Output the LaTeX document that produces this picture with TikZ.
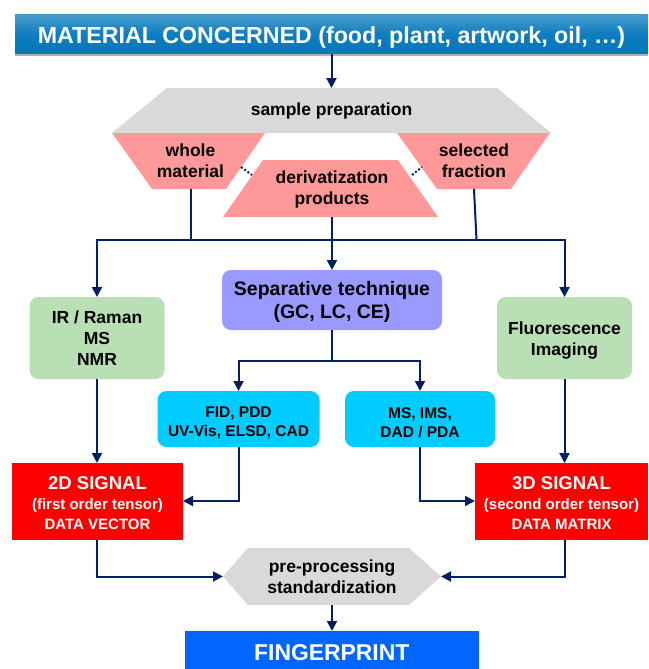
\documentclass[tikz,border=0pt]{standalone}
\usepackage{fontspec}
\setmainfont{Liberation Sans}
\usetikzlibrary{arrows.meta}
\definecolor{navy}{HTML}{002060}
\definecolor{graybox}{HTML}{D9D9D9}
\definecolor{pinkbox}{HTML}{FF9999}
\definecolor{violetbox}{HTML}{9999FF}
\definecolor{greenbox}{HTML}{B9E0B5}
\definecolor{cyanbox}{HTML}{00CCFF}
\definecolor{bluebox}{HTML}{0066FF}
\definecolor{redbox}{HTML}{FF0000}
\definecolor{bartop}{HTML}{469BCD}
\definecolor{barmid}{HTML}{0F7DBE}
\definecolor{barbot}{HTML}{0078B9}
\tikzset{
  lab/.style={inner sep=0pt,outer sep=0pt,align=center,font=\bfseries\fontsize{17.5}{21}\selectfont},
  rbox/.style={rounded corners=9pt,inner sep=0pt,outer sep=0pt,align=center},
  sharp/.style={inner sep=0pt,outer sep=0pt,align=center,text=white},
  link/.style={draw=navy,line width=2pt},
  arr/.style={link,-{Triangle[width=10pt,length=10pt]}},
  dots/.style={draw=navy,line width=2pt,dash pattern=on 2pt off 2pt},
}
\begin{document}
\begin{tikzpicture}[x=1pt,y=-1pt]
\useasboundingbox (0,0) rectangle (648,669);
% title bar
\fill[black,opacity=.3] (15,16) rectangle (648,56);
\node[sharp,minimum width=633pt,minimum height=39pt,shade,top color=bartop,bottom color=barbot,middle color=barmid,text height=22pt,
      font=\bfseries\fontsize{23.2}{26}\selectfont] (title) at (331.5,34.5) {MATERIAL CONCERNED (food, plant, artwork, oil, …)};
% shapes
\fill[graybox] (167,88) -- (497,88) -- (551,133) -- (112,133) -- cycle;
\fill[pinkbox] (112,133) -- (265,133) -- (226,189) -- (152,189) -- cycle;
\fill[pinkbox] (397,133) -- (550,133) -- (511,189) -- (437,189) -- cycle;
\fill[pinkbox] (263,160) -- (398,160) -- (438,217) -- (223,217) -- cycle;
\fill[graybox] (248,548) -- (409,548) -- (441,576.5) -- (409,605) -- (248,605) -- (223,576.5) -- cycle;
% text nodes
\node[lab,minimum width=439pt,minimum height=45pt] (prep) at (331.5,110.5) {sample preparation};
\node[lab,minimum width=148pt,minimum height=56pt] (whole) at (190.5,161) {whole\\material};
\node[lab,minimum width=148pt,minimum height=56pt] (selected) at (474,161) {selected\\fraction};
\node[lab,minimum width=215pt,minimum height=57pt,text height=36pt] (deriv) at (332,188.5) {derivatization\\products};
\node[rbox,fill=violetbox,minimum width=220pt,minimum height=60pt,text height=41.5pt,font=\bfseries\fontsize{19.5}{23}\selectfont] (sep) at (332,300) {Separative technique\\(GC, LC, CE)};
\node[rbox,fill=greenbox,minimum width=135pt,minimum height=82pt,font=\bfseries\fontsize{17.5}{21}\selectfont] (ir) at (97,338) {IR / Raman\\MS\\NMR};
\node[rbox,fill=greenbox,minimum width=135pt,minimum height=82pt,text height=38pt,font=\bfseries\fontsize{17.5}{21}\selectfont] (fluo) at (564.5,338) {Fluorescence\\Imaging};
\node[rbox,fill=cyanbox,minimum width=162pt,minimum height=56pt,text height=36.5pt,font=\bfseries\fontsize{15.5}{19}\selectfont] (fid) at (238.5,419) {FID, PDD\\UV-Vis, ELSD, CAD};
\node[rbox,fill=cyanbox,minimum width=150pt,minimum height=56pt,text height=36.5pt,font=\bfseries\fontsize{15.5}{19}\selectfont] (msb) at (420,419) {MS, IMS,\\DAD / PDA};
\node[sharp,fill=redbox,minimum width=171pt,minimum height=77pt,text height=56.5pt,font=\bfseries\fontsize{15}{20}\selectfont] (sig2) at (97.5,501.5)
  {{\fontsize{18.5}{20}\selectfont 2D SIGNAL}\\(first order tensor)\\DATA VECTOR};
\node[sharp,fill=redbox,minimum width=173pt,minimum height=77pt,text height=56.5pt,font=\bfseries\fontsize{15}{20}\selectfont] (sig3) at (561.5,501.5)
  {{\fontsize{18.5}{20}\selectfont 3D SIGNAL}\\(second order tensor)\\DATA MATRIX};
\node[lab,minimum width=218pt,minimum height=57pt] (proc) at (332,576.5) {pre-processing\\standardization};
\node[sharp,fill=bluebox,minimum width=293.5pt,minimum height=38pt,text height=22pt,font=\bfseries\fontsize{22.9}{25}\selectfont] (fp) at (331.75,650) {FINGERPRINT};
% junction coordinates
\coordinate (busL) at (97,240);
\coordinate (busR) at (564.5,240);
\coordinate (busW) at (190.5,240);
\coordinate (busD) at (332,240);
\coordinate (busS) at (476.5,240);
\coordinate (sepJ) at (332,361);
\coordinate (sig2in) at (183,501);
\coordinate (sig3in) at (475,501);
\coordinate (d1a) at (241,167); \coordinate (d1b) at (252,175);
\coordinate (d2a) at (412,175); \coordinate (d2b) at (422,167);
% connectors
\draw[arr] (title.south) -- (prep.north);
\draw[dots] (d1a) -- (d1b);
\draw[dots] (d2a) -- (d2b);
\draw[link] (whole.south) -- (busW);
\draw[link] (selected.south) -- (busS);
\draw[link] (deriv.south) -- (busD);
\draw[arr] (busD) -- (sep.north);
\draw[arr] (busW) -- (busL) -- (ir.north);
\draw[arr] (busS) -- (busR) -- (fluo.north);
\draw[link] (busW) -- (busS);
\draw[link] (sep.south) -- (sepJ);
\draw[arr] (sepJ) -| (fid.north);
\draw[arr] (sepJ) -| (msb.north);
\draw[arr] (ir.south) -- (ir.south |- sig2.north);
\draw[arr] (fluo.south) -- (fluo.south |- sig3.north);
\draw[arr] (fid.south) |- (sig2in);
\draw[arr] (msb.south) |- (sig3in);
\draw[arr] (ir.south |- sig2.south) |- (proc.west);
\draw[arr] (fluo.south |- sig3.south) |- (proc.east);
\draw[arr] (proc.south) -- (fp.north -| proc.south);
\end{tikzpicture}
\end{document}
